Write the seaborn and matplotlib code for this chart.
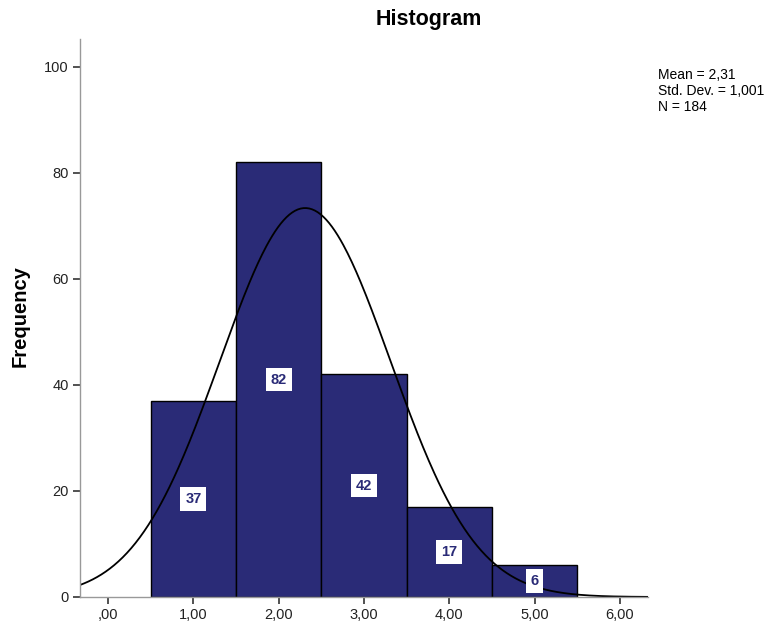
import numpy as np
import pandas as pd
import matplotlib
matplotlib.use("Agg")
import matplotlib.pyplot as plt
import seaborn as sns

# Binned values (bin centres) and their frequencies
categories = [1, 2, 3, 4, 5]
counts = [37, 82, 42, 17, 6]
x_ticks = [0, 1, 2, 3, 4, 5, 6]
x_tick_labels = [",00", "1,00", "2,00", "3,00", "4,00", "5,00", "6,00"]
y_ticks = [0, 20, 40, 60, 80, 100]

# Summary statistics shown in the corner
mean_val = 2.31
std_val = 1.001
n_val = 184

sns.set_theme(style="white")
plt.rcParams["font.family"] = ["Liberation Sans", "DejaVu Sans"]

df = pd.DataFrame({"value": categories, "count": counts})

fig = plt.figure(figsize=(7.75, 6.25), dpi=100)
ax = fig.add_axes([80 / 775, 1 - 597 / 625, (648 - 80) / 775, (597 - 39) / 625])

bar_color = "#2A2B77"
sns.histplot(data=df, x="value", weights="count", binwidth=1, binrange=(0.5, 5.5),
             color=bar_color, edgecolor="black", linewidth=1.0, alpha=1.0, ax=ax)

# Fitted normal curve scaled to the counts (bin width 1)
xs = np.linspace(-0.33, 6.33, 400)
ys = n_val * 1.0 / (std_val * np.sqrt(2 * np.pi)) * np.exp(-0.5 * ((xs - mean_val) / std_val) ** 2)
sns.lineplot(x=xs, y=ys, color="black", linewidth=1.3, ax=ax)

# Frequency labels at half bar height
for c, n in zip(categories, counts):
    ax.text(c, n / 2, str(n), ha="center", va="center", fontsize=10.5,
            fontweight="bold", color=bar_color,
            bbox=dict(boxstyle="square,pad=0.33", facecolor="white", edgecolor="none"))

ax.set_xlim(-0.33, 6.33)
ax.set_ylim(0, 105.2)
ax.set_xticks(x_ticks)
ax.set_xticklabels(x_tick_labels)
ax.set_yticks(y_ticks)
ax.set_xlabel("")
ax.set_ylabel("")

for side in ["top", "right"]:
    ax.spines[side].set_visible(False)
for side in ["left", "bottom"]:
    ax.spines[side].set_color("#999999")
    ax.spines[side].set_linewidth(1.0)
ax.tick_params(axis="both", direction="out", length=5, width=1.2, color="#333333",
               labelsize=10.5, labelcolor="#222222", bottom=True, left=True, pad=3)

fig.text(20 / 775, 1 - 316 / 625, "Frequency", rotation=90, ha="center", va="center",
         fontsize=14.5, fontweight="bold", color="black")
fig.text(429 / 775, 1 - 20 / 625, "Histogram", ha="center", va="center",
         fontsize=15.5, fontweight="bold", color="black")

mean_txt = f"{mean_val:.2f}".replace(".", ",")
std_txt = f"{std_val:.3f}".replace(".", ",")
fig.text(658 / 775, 1 - 68 / 625,
         f"Mean = {mean_txt}\nStd. Dev. = {std_txt}\nN = {n_val}",
         ha="left", va="top", fontsize=10, linespacing=1.18, color="black")

fig.savefig("out.png", dpi=100)
